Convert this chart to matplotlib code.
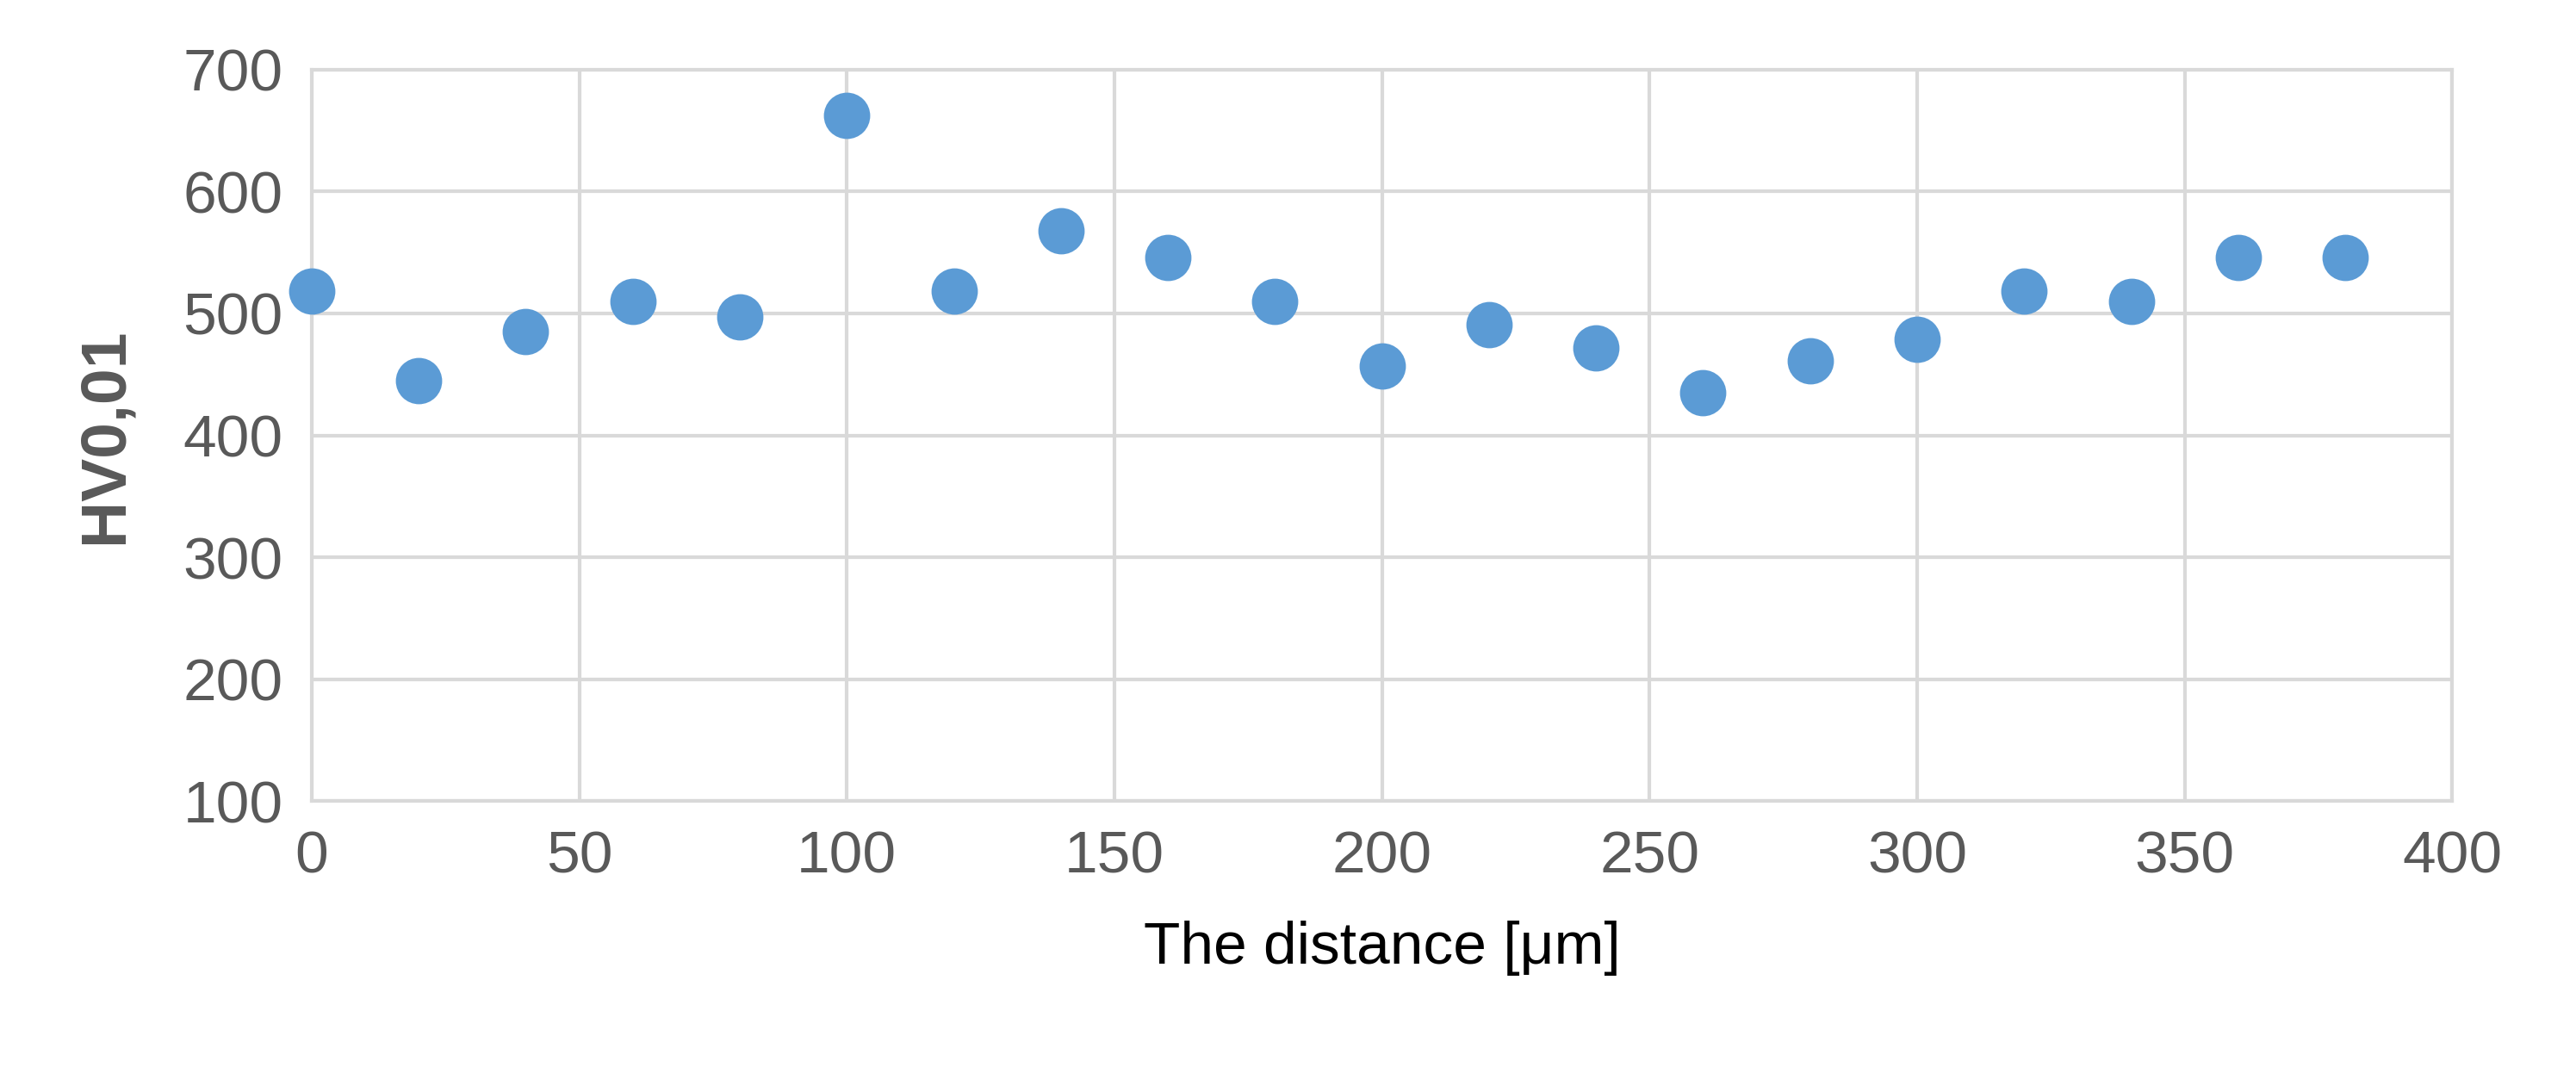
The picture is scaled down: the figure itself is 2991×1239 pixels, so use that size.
import matplotlib.pyplot as plt

distance = [0, 20, 40, 60, 80, 100, 120, 140, 160, 180, 200, 220, 240, 260, 280, 300, 320, 340, 360, 380]
hardness = [518, 445, 485, 510, 497, 662, 518, 568, 546, 510, 457, 491, 472, 435, 461, 479, 518, 510, 546, 546]

plt.rcParams['font.family'] = ['Liberation Sans', 'DejaVu Sans']
fig = plt.figure(figsize=(29.91, 12.39), dpi=100)
ax = fig.add_axes([0.121, 0.249, 0.831, 0.686])

ax.scatter(distance, hardness, s=1500, color='#5B9BD5', zorder=3, linewidths=0, clip_on=False)
ax.set_xlim(0, 400)
ax.set_ylim(100, 700)
ax.set_xticks(range(0, 401, 50))
ax.set_yticks(range(100, 701, 100))
ax.grid(True, color='#D9D9D9', linewidth=3)
for s in ax.spines.values():
    s.set_color('#D9D9D9')
    s.set_linewidth(3)
ax.tick_params(length=0, labelsize=50, labelcolor='#595959', pad=24)
ax.set_xlabel('The distance [μm]', fontsize=50, color='#000000', labelpad=30)
ax.set_ylabel('HV0,01', fontsize=54, color='#595959', fontweight='bold', labelpad=40)

fig.savefig('out.png', dpi=100)
